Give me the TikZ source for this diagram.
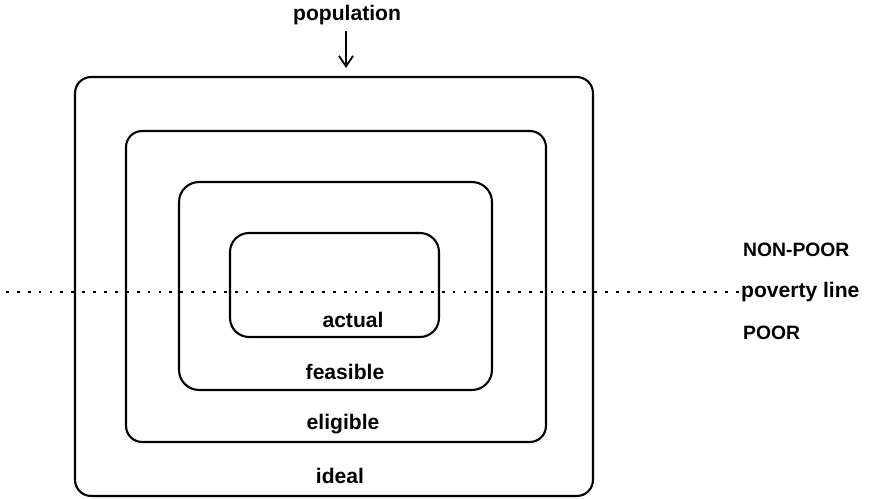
\documentclass[tikz,border=0pt]{standalone}
\usepackage{fontspec}
\setmainfont{Liberation Sans}
\usetikzlibrary{arrows.meta,positioning}

\begin{document}
\begin{tikzpicture}[x=0.02cm,y=-0.02cm,
  zone/.style={draw,line width=1.2pt,rounded corners=#1,inner sep=0pt},
  zone/.default=0.34cm,
  lbl/.style={font=\fontsize{12}{14}\selectfont\bfseries},
  side/.style={font=\fontsize{11}{13}\selectfont\bfseries,anchor=west,inner sep=1pt}]
  \useasboundingbox (0,0) rectangle (878,499);
  % nested groups
  \node[zone=0.32cm,minimum width=10.36cm,minimum height=8.38cm] (ideal) at (334,286.5) {};
  \node[zone=0.32cm,minimum width=8.4cm,minimum height=6.22cm] (eligible) at (336,286.5) {};
  \node[zone=0.4cm,minimum width=6.26cm,minimum height=4.16cm] (feasible) at (335.5,286) {};
  \node[zone=0.38cm,minimum width=4.18cm,minimum height=2.08cm] (actual) at (334.5,285) {};
  \node[lbl] (actualtxt) at (353,320) {actual};
  \node[lbl] (feasibletxt) at (345,372) {feasible};
  \node[lbl] (eligibletxt) at (343,424) {eligible};
  \node[lbl] (idealtxt) at (340,476) {ideal};
  % population arrow
  \node[lbl] (pop) at (347,15) {population};
  \coordinate (popend) at (346,68);
  \draw[line width=1pt,-{Straight Barb[length=6pt,width=8pt]}] (pop.south -| popend) -- (popend);
  % poverty line
  \node[side] (nonpoor) at (741,250) {NON-POOR};
  \node[lbl,anchor=west,inner sep=1pt] (povline) at (739,292) {poverty line};
  \node[side] (poor) at (741,333) {POOR};
  \coordinate (lineL) at (6,292);
  \draw[line width=1.6pt,dash pattern=on 1.6pt off 4.6pt] (lineL) -- (povline.west);
\end{tikzpicture}
\end{document}
